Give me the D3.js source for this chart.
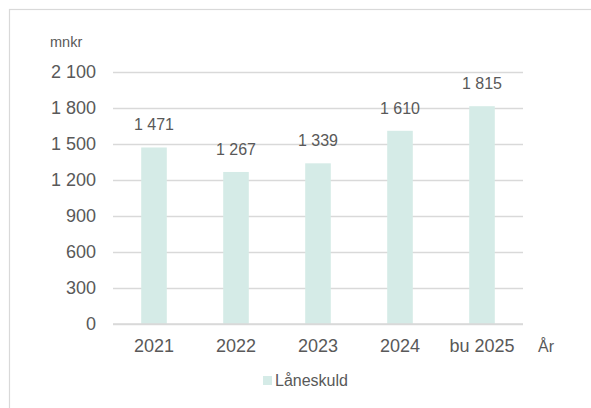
<!DOCTYPE html>
<html>
<head>
<meta charset="utf-8">
<script src="https://cdn.jsdelivr.net/npm/d3@7"></script>
<style>
  body { margin: 0; background: #fff; }
  text { font-family: "Liberation Sans", Arial, sans-serif; fill: #595959; }
</style>
</head>
<body>
<svg width="591" height="408"></svg>
<script>
// chart data
const years = ['2021', '2022', '2023', '2024', 'bu 2025']
const laneskuld = [1471, 1267, 1339, 1610, 1815]
const yTicks = [0, 300, 600, 900, 1200, 1500, 1800, 2100]

const svg = d3.select('svg')
const margin = {top: 72, right: 68, bottom: 84, left: 113}
const width = +svg.attr('width')
const height = +svg.attr('height')

const fmt = v => d3.format(',')(v).replace(/,/g, ' ')

// frame
svg.append('rect')
    .attr('x', 9.5).attr('y', 9.5)
    .attr('width', 600).attr('height', 420)
    .attr('fill', 'none')
    .attr('stroke', '#d9d9d9')
    .attr('stroke-width', 1.2)

const xScale = d3.scaleBand()
    .domain(years)
    .range([margin.left, width - margin.right])
const yScale = d3.scaleLinear()
    .domain([0, 2100])
    .range([height - margin.bottom, margin.top])

// gridlines + y labels
const yAxis = svg.append('g')
    .attr('transform', `translate(${margin.left},0)`)
    .call(d3.axisLeft(yScale).tickValues(yTicks).tickSize(-(width - margin.left - margin.right)).tickFormat(fmt).tickPadding(17))
yAxis.select('.domain').remove()
yAxis.selectAll('line').attr('stroke', '#d9d9d9').attr('stroke-width', 1.3)
yAxis.selectAll('text').style('font-size', '18px').attr('fill', '#595959')

const barW = 25.6
svg.selectAll('rect.bar').data(laneskuld)
    .enter().append('rect')
        .attr('class', 'bar')
        .attr('fill', '#d5ebe7')
        .attr('x', (d, i) => xScale(years[i]) + xScale.bandwidth() / 2 - barW / 2)
        .attr('y', d => yScale(d))
        .attr('width', barW)
        .attr('height', d => yScale(0) - yScale(d))

// redraw zero line over the bars
svg.append('line')
    .attr('x1', margin.left).attr('x2', width - margin.right)
    .attr('y1', yScale(0)).attr('y2', yScale(0))
    .attr('stroke', '#d9d9d9').attr('stroke-width', 1.3)

// value labels
svg.selectAll('text.val').data(laneskuld)
    .enter().append('text')
        .attr('class', 'val')
        .attr('x', (d, i) => xScale(years[i]) + xScale.bandwidth() / 2)
        .attr('y', d => yScale(d) - 17)
        .attr('text-anchor', 'middle')
        .style('font-size', '16px')
        .text(fmt)

// x axis labels
const xAxis = svg.append('g')
    .attr('transform', `translate(0,${yScale(0)})`)
    .call(d3.axisBottom(xScale).tickSize(0).tickPadding(15))
xAxis.select('.domain').remove()
xAxis.selectAll('text').style('font-size', '18px').attr('fill', '#595959')

svg.append('text')
    .attr('x', 50).attr('y', 47)
    .style('font-size', '14.5px')
    .text('mnkr')

svg.append('text')
    .attr('x', 538).attr('y', 352)
    .style('font-size', '16px')
    .text('År')

// legend
svg.append('rect')
    .attr('x', 263).attr('y', 376)
    .attr('width', 9).attr('height', 9)
    .attr('fill', '#d5ebe7')
svg.append('text')
    .attr('x', 275).attr('y', 386)
    .style('font-size', '16px')
    .text('Låneskuld')
</script>
</body>
</html>
